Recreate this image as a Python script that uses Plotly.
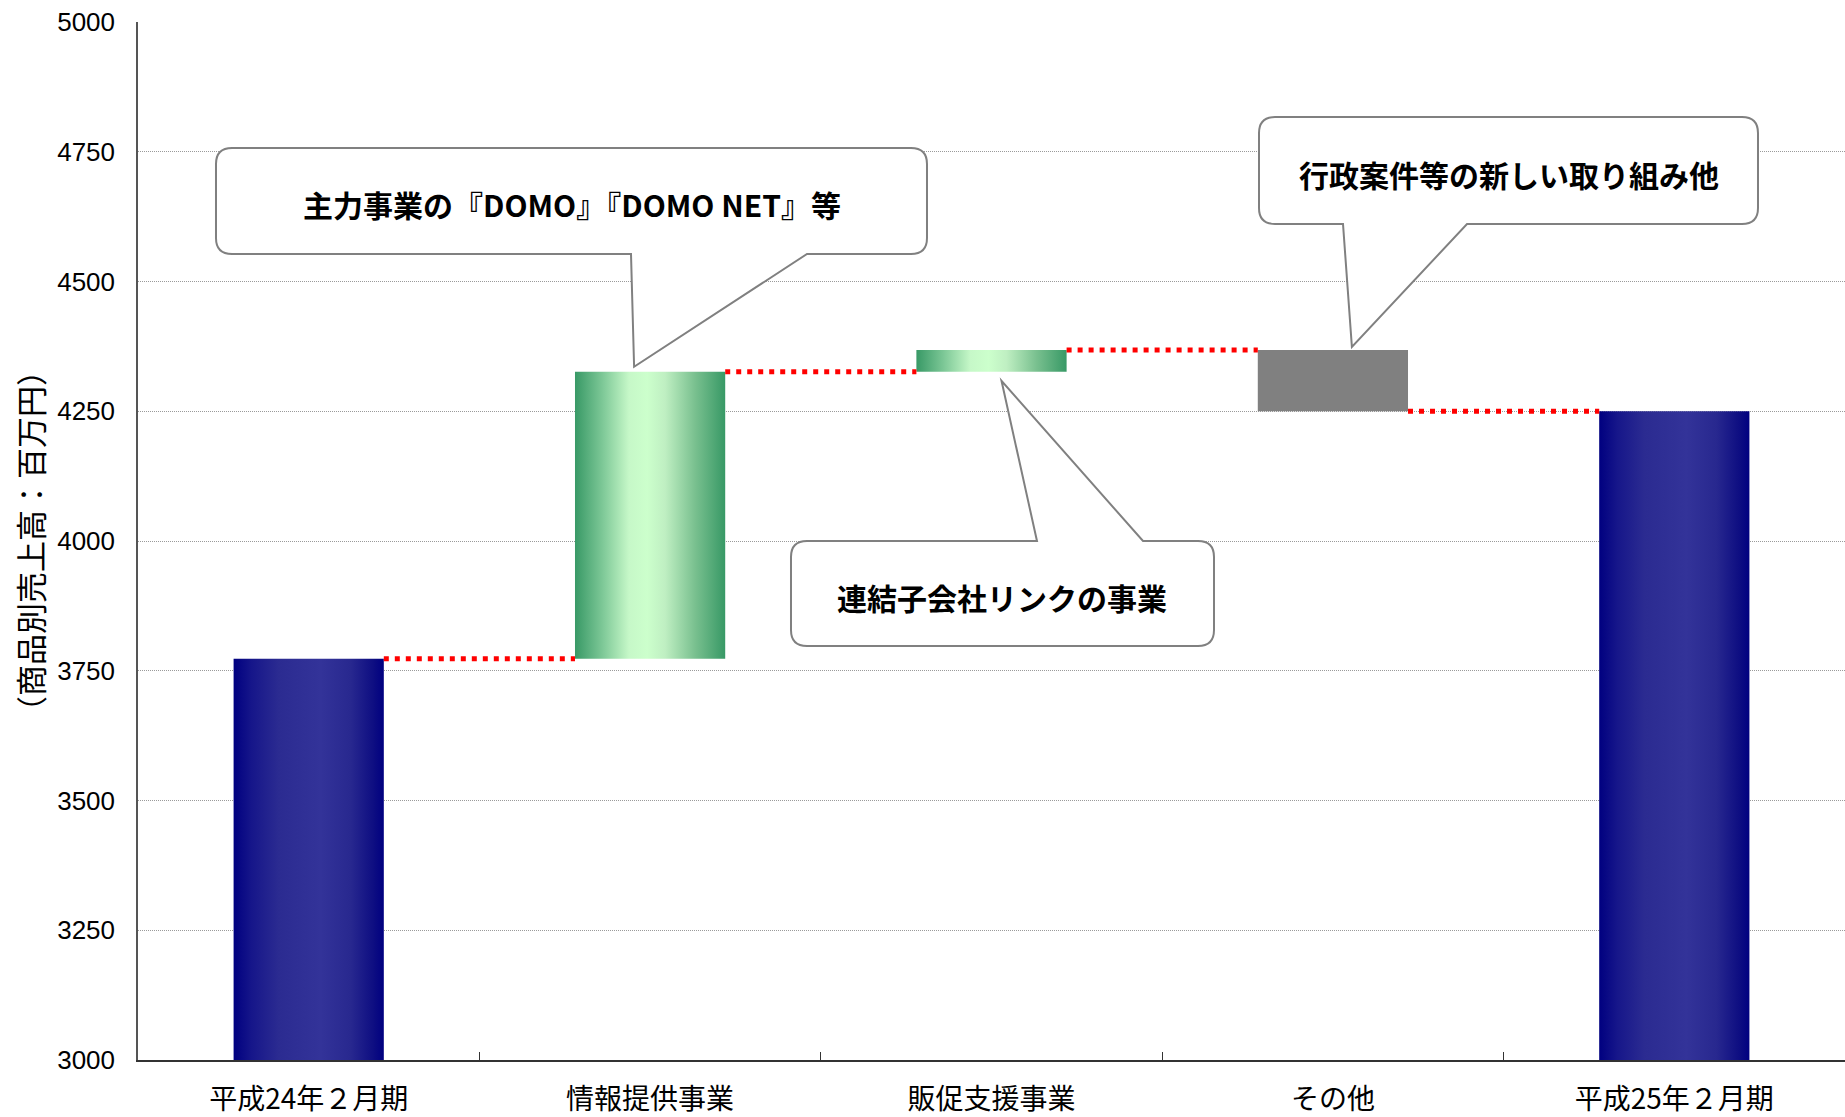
import plotly.graph_objects as go

# ---- data -------------------------------------------------------------
categories = ["平成24年２月期", "情報提供事業", "販促支援事業", "その他", "平成25年２月期"]
opening_sales = 3773                 # 平成24年２月期 売上高（百万円）
segment_changes = [553, 42, -118]    # 情報提供 / 販促支援 / その他 の増減
closing_sales = 4250                 # 平成25年２月期 売上高（百万円）
y_ticks = [3000, 3250, 3500, 3750, 4000, 4250, 4500, 4750, 5000]
y_title = "（商品別売上高：百万円）"
callout_texts = [
    "主力事業の『DOMO』『DOMO NET』等",
    "連結子会社リンクの事業",
    "行政案件等の新しい取り組み他",
]

# ---- page geometry ----------------------------------------------------
W, H = 1845, 1117
ML, MR, MT, MB = 138, 0, 22, 57
PX0, PX1 = ML, W - MR
PY0, PY1 = MT, H - MB
Y_MIN, Y_MAX = y_ticks[0], y_ticks[-1]
X_MIN, X_MAX = -0.5, len(categories) - 0.5
HALF_W = 0.22

JP = "Noto Sans CJK JP"

NAVY = [[0.0, "#000080"], [0.12, "#16168A"], [0.3, "#2B2B91"],
        [0.58, "#333399"], [0.78, "#28288F"], [0.93, "#0E0E82"], [1.0, "#000080"]]
GREEN = [[0.0, "#389966"], [0.18, "#7CC796"], [0.36, "#C6F8C8"],
         [0.48, "#CCFFCC"], [0.6, "#BFEFC2"], [0.8, "#79C08F"], [1.0, "#389966"]]
GRAY = [[0.0, "#808080"], [1.0, "#808080"]]


def val_py(v):
    return PY1 - (v - Y_MIN) / (Y_MAX - Y_MIN) * (PY1 - PY0)


def idx_px(i):
    return PX0 + (i - X_MIN) / (X_MAX - X_MIN) * (PX1 - PX0)


def to_paper(x, y):
    return (x - PX0) / (PX1 - PX0), (PY1 - y) / (PY1 - PY0)


# running totals for the waterfall
levels = [opening_sales]
for d in segment_changes:
    levels.append(levels[-1] + d)

bars = [(0, 0, opening_sales, NAVY)]
for k, d in enumerate(segment_changes):
    col = GRAY if d < 0 else GREEN
    bars.append((k + 1, levels[k], levels[k + 1], col))
bars.append((len(categories) - 1, 0, closing_sales, NAVY))

fig = go.Figure()

for i, lo, hi, scale in bars:
    fig.add_trace(go.Scatter(
        x=[i - HALF_W, i + HALF_W, i + HALF_W, i - HALF_W, i - HALF_W],
        y=[lo, lo, hi, hi, lo],
        mode="lines", fill="toself",
        line=dict(width=0, color="rgba(0,0,0,0)"),
        fillgradient=dict(type="horizontal", colorscale=scale),
        hoverinfo="skip", showlegend=False,
    ))

# red dotted connectors between consecutive bars
cx, cy = [], []
for k, lv in enumerate(levels):
    cx += [k + HALF_W, k + 1 - HALF_W, None]
    cy += [lv, lv, None]
fig.add_trace(go.Scatter(
    x=cx, y=cy, mode="lines",
    line=dict(color="#FF0000", width=5, dash="5px,6px"),
    hoverinfo="skip", showlegend=False,
))


# ---- speech-bubble callouts ------------------------------------------
def bubble_path(x0, y0, x1, y1, bx0, bx1, tip, side, r=16):
    tx, ty = tip
    pts = []
    if side == "top":
        pts += [("M", x0 + r, y0), ("L", bx0, y0), ("L", tx, ty), ("L", bx1, y0)]
    else:
        pts += [("M", x0 + r, y0)]
    pts += [("L", x1 - r, y0), ("Q", x1, y0, x1, y0 + r), ("L", x1, y1 - r),
            ("Q", x1, y1, x1 - r, y1)]
    if side == "bottom":
        pts += [("L", bx1, y1), ("L", tx, ty), ("L", bx0, y1)]
    pts += [("L", x0 + r, y1), ("Q", x0, y1, x0, y1 - r), ("L", x0, y0 + r),
            ("Q", x0, y0, x0 + r, y0)]
    out = []
    for p in pts:
        cmd, coords = p[0], p[1:]
        segs = []
        for j in range(0, len(coords), 2):
            px, py = to_paper(coords[j], coords[j + 1])
            segs.append(f"{px:.5f},{py:.5f}")
        out.append(cmd + " ".join(segs))
    return " ".join(out) + " Z"


callouts = [
    dict(box=(216, 148, 927, 254), base=(631, 807), side="bottom",
         tip=(idx_px(1) - 16, val_py(levels[1]) - 5)),
    dict(box=(791, 541, 1214, 646), base=(1037, 1143), side="top",
         tip=(idx_px(2) + 10, val_py(levels[1]) + 9)),
    dict(box=(1259, 117, 1758, 224), base=(1343, 1467), side="bottom",
         tip=(idx_px(3) + 19, val_py(levels[2]) - 3)),
]

shapes = []
annotations = []
for c, text in zip(callouts, callout_texts):
    x0, y0, x1, y1 = c["box"]
    shapes.append(dict(
        type="path", xref="paper", yref="paper", layer="above",
        path=bubble_path(x0, y0, x1, y1, c["base"][0], c["base"][1], c["tip"], c["side"]),
        fillcolor="white", line=dict(color="#808080", width=2),
    ))
    ax, ay = to_paper((x0 + x1) / 2, (y0 + y1) / 2 + 3)
    annotations.append(dict(
        x=ax, y=ay, xref="paper", yref="paper", text=f"<b>{text}</b>",
        showarrow=False, xanchor="center", yanchor="middle",
        font=dict(family=JP, size=30, color="black"),
    ))

fig.update_layout(
    template="none",
    width=W, height=H,
    margin=dict(l=ML, r=MR, t=MT, b=MB, pad=0),
    paper_bgcolor="white", plot_bgcolor="white",
    shapes=shapes, annotations=annotations,
    showlegend=False,
)

fig.update_xaxes(
    range=[X_MIN, X_MAX], automargin=False,
    tickmode="array", tickvals=list(range(len(categories))), ticktext=categories,
    ticks="", ticklabelstandoff=13,
    tickfont=dict(family=JP, size=28, color="black"),
    showgrid=False, zeroline=False,
    showline=True, linecolor="#333333", linewidth=2,
    minor=dict(tickmode="array", tickvals=[k + 0.5 for k in range(len(categories) - 1)],
               ticks="inside", ticklen=8, tickwidth=1, tickcolor="#333333", showgrid=False),
    fixedrange=True,
)
fig.update_yaxes(
    range=[Y_MIN, Y_MAX], automargin=False,
    tickmode="array", tickvals=y_ticks,
    ticks="", ticklabelstandoff=16,
    tickfont=dict(family="Liberation Sans, Arial", size=26, color="black"),
    showgrid=True, gridcolor="#9A9A9A", gridwidth=1, griddash="1px,1px",
    zeroline=False,
    showline=True, linecolor="#555555", linewidth=1.5,
    title=dict(text=y_title, font=dict(family=JP, size=31, color="black"), standoff=4),
    fixedrange=True,
)

fig.write_html("out.html")
